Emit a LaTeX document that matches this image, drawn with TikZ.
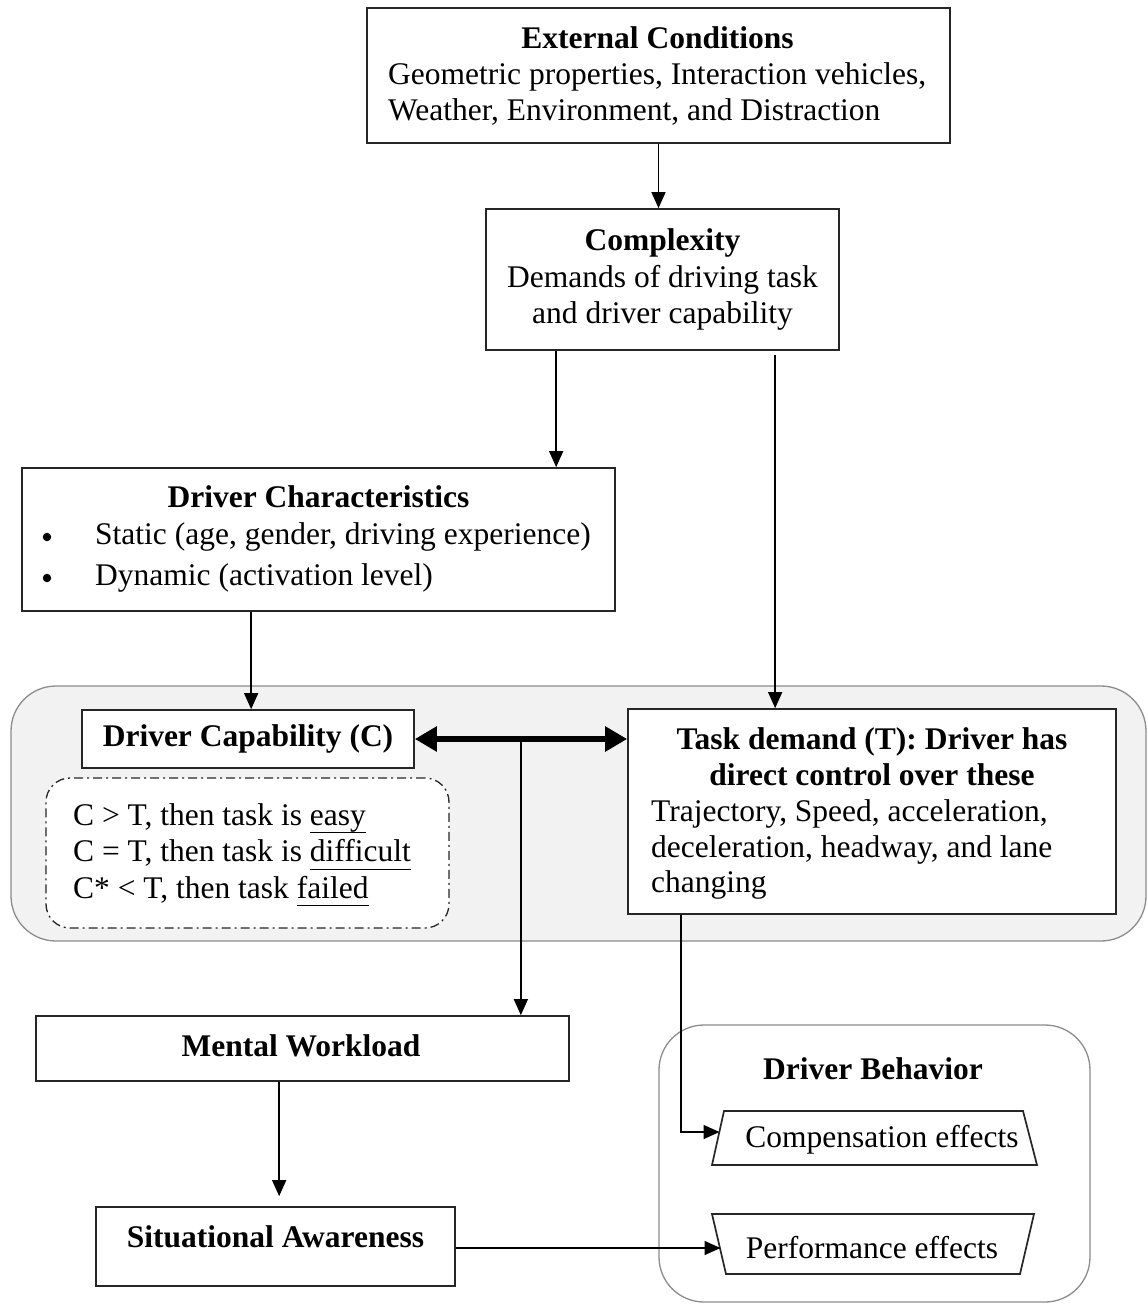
\documentclass[tikz,border=0pt]{standalone}
\usepackage{fontspec}
\setmainfont{Liberation Serif}
\usetikzlibrary{arrows.meta,calc}
\newcommand\myul[1]{\setbox0\hbox{#1}\rlap{\rule[-8pt]{\wd0}{1.4pt}}\box0}
\begin{document}
\begin{tikzpicture}[x=1pt,y=-1pt,
  txt/.style={font=\fontsize{31.5}{36.5}\selectfont, inner sep=0pt},
  box/.style={txt, draw=black!85, line width=1.7pt, fill=white},
  grp/.style={draw=black!45, line width=1.3pt, rounded corners=45pt},
  arr/.style={line width=1.4pt, -{Triangle[length=16pt,width=14pt]}},
  dbl/.style={line width=6pt, {Triangle[length=22pt,width=24pt]}-{Triangle[length=22pt,width=24pt]}},
  dashbox/.style={draw=black!85, line width=1.3pt, rounded corners=24pt, fill=white,
     dash pattern=on 9pt off 4pt on 2pt off 4pt},
  trap/.style={draw=black!85, line width=1.7pt, fill=white},
  bullet/.style={circle, fill=black, inner sep=0pt, minimum size=8.5pt},
  ]
\useasboundingbox (0,0) rectangle (1148,1304);

% containers
\node[grp, fill=black!5, minimum width=1135pt, minimum height=255pt] (group) at (578.5,813.5) {};
\node[grp, fill=white, minimum width=431pt, minimum height=277pt] (beh) at (874.5,1163.5) {};

% top boxes
\node[box, minimum width=583pt, minimum height=135pt] (ec) at (658.5,75.5) {};
\node[txt] (ect) at (657.5,38) {\textbf{External Conditions}};
\node[txt, anchor=west, align=left] (ecb) at (388,94) {Geometric properties, Interaction vehicles,\\Weather, Environment, and Distraction};
\node[box, minimum width=353pt, minimum height=141pt, align=center] (comp) at (662.5,279.5)
  {\textbf{Complexity}\\Demands of driving task\\and driver capability};

% driver characteristics
\node[box, minimum width=593pt, minimum height=143pt] (dc) at (318.5,539.5) {};
\node[txt] (dct) at (318.5,497) {\textbf{Driver Characteristics}};
\node[bullet] (b1) at (47,537) {};
\node[bullet] (b2) at (47,578) {};
\node[txt, anchor=west] (dc1) at (95,537) {Static (age, gender, driving experience)};
\node[txt, anchor=west] (dc2) at (95,578) {Dynamic (activation level)};

% capability and task demand
\node[box, minimum width=332pt, minimum height=58pt] (dcap) at (248,739) {\textbf{Driver Capability (C)}};
\node[dashbox, minimum width=403pt, minimum height=150pt] (rules) at (247.5,853) {};
\node[txt, anchor=west, align=left] (rulest) at (73,855)
  {C > T, then task is \myul{easy}\\C = T, then task is \myul{difficult}\\C* < T, then task \myul{failed}};
\node[box, minimum width=488pt, minimum height=205pt] (task) at (872,811.5) {};
\node[txt, align=center] (taskt) at (872,756.5) {\textbf{Task demand (T): Driver has}\\\textbf{direct control over these}};
\node[txt, anchor=west, align=left, font=\fontsize{31.5}{35.5}\selectfont] (taskb) at (651,849.5)
  {Trajectory, Speed, acceleration,\\deceleration, headway, and lane\\changing};

% lower left
\node[box, minimum width=533pt, minimum height=65pt] (mw) at (302.5,1048.5) {};
\node[txt] (mwt) at (301,1046) {\textbf{Mental Workload}};
\node[box, minimum width=359pt, minimum height=79pt] (sa) at (275.5,1246.5) {};
\node[txt] (sat) at (275.5,1237) {\textbf{Situational Awareness}};

% driver behavior
\node[txt] (behT) at (873,1069) {\textbf{Driver Behavior}};
\draw[trap] (724,1111) -- (1023,1111) -- (1037,1165) -- (712,1165) -- cycle;
\node[txt] (ce) at (882,1140) {Compensation effects};
\draw[trap] (712,1214) -- (1034,1214) -- (1020,1274) -- (726,1274) -- cycle;
\node[txt] (pe) at (872,1248) {Performance effects};
\coordinate (compin) at (719.5,1132);
\coordinate (perfin) at (720.5,1248);

% connectors
\draw[arr] (ec.south) -- (ec.south |- comp.north);
\coordinate (c1) at ($(comp.south west)+(71,0)$);
\draw[arr] (c1) -- (c1 |- dc.north);
\coordinate (c2) at ($(comp.south west)+(290,4)$);
\draw[arr] (c2) -- (c2 |- task.north);
\coordinate (c3) at ($(dc.south west)+(230,0)$);
\draw[arr] (c3) -- (c3 |- dcap.north);
\draw[dbl] (dcap.east) -- (dcap.east -| task.west);
\coordinate (c4) at ($(dcap.east)+(106,0)$);
\draw[arr] (c4) -- (c4 |- mw.north);
\coordinate (c5) at ($(mw.south west)+(244,0)$);
\draw[arr, shorten >=10pt] (c5) -- (c5 |- sa.north);
\coordinate (c6) at ($(task.south west)+(54,0)$);
\draw[arr] (c6) |- (compin);
\coordinate (c7) at (sa.east |- perfin);
\draw[arr] (c7) -- (perfin);
\end{tikzpicture}
\end{document}
